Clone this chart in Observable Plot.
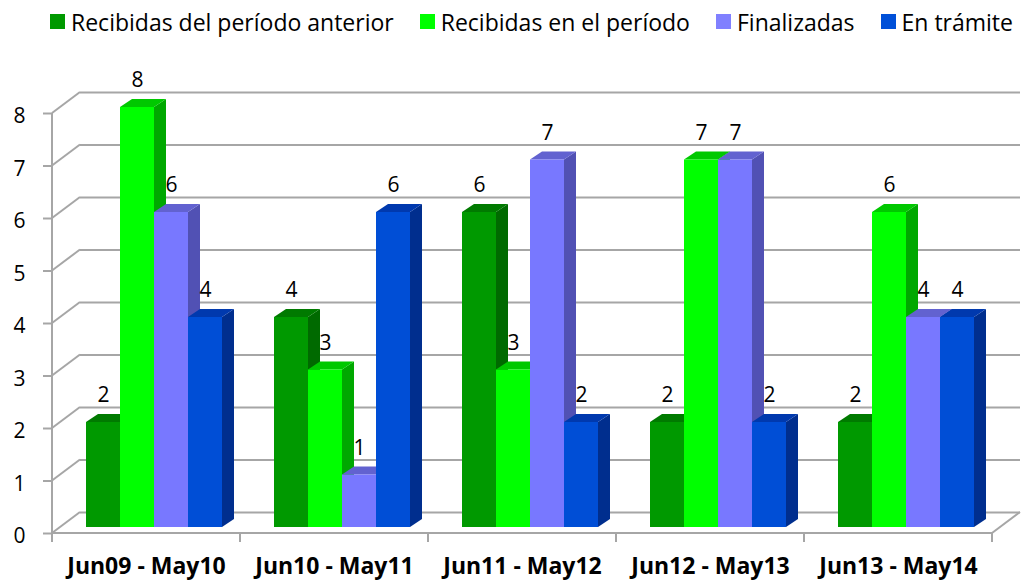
<!DOCTYPE html>
<html><head><meta charset="utf-8">
<script src="https://cdn.jsdelivr.net/npm/d3@7"></script>
<script src="https://cdn.jsdelivr.net/npm/@observablehq/plot@0.6"></script>
<style>
html,body{margin:0;padding:0;background:#fff;}
body{width:1024px;height:582px;overflow:hidden;font-family:"Open Sans",sans-serif;position:relative;}
#legend{position:absolute;top:8px;left:50px;display:flex;gap:26px;font-size:23px;line-height:28px;color:#000;white-space:nowrap;}
#legend .item{display:flex;align-items:center;}
#legend .sw{width:15px;height:15px;margin-right:6px;position:relative;top:-1px;}
#chart{position:absolute;top:50px;left:0;}
</style></head><body>
<div id="legend"></div>
<div id="chart"></div>
<script>
const categories = ["Jun09 - May10","Jun10 - May11","Jun11 - May12","Jun12 - May13","Jun13 - May14"];
const seriesNames = ["Recibidas del período anterior","Recibidas en el período","Finalizadas","En trámite"];
const recibidasAnterior = [2,4,6,2,2];
const recibidasPeriodo  = [8,3,3,7,6];
const finalizadas       = [6,1,7,7,4];
const enTramite         = [4,6,2,2,4];
const yTicks = [0,1,2,3,4,5,6,7,8];

const frontColors  = ["#009900","#00ff00","#7878ff","#004ed6"];
const topColors    = ["#007a00","#00c800","#6262d0","#0039ae"];
const sideColors   = ["#006a00","#00a800","#5151b4","#002e8e"];
const legendColors = ["#009900","#00ff00","#8080ff","#0050d8"];

const seriesValues = [recibidasAnterior, recibidasPeriodo, finalizadas, enTramite];
const rows = [];
categories.forEach((c, i) => seriesValues.forEach((arr, j) =>
  rows.push({category: c, series: seriesNames[j], value: arr[i]})));

// legend
const legend = document.getElementById("legend");
seriesNames.forEach((s, j) => {
  const it = document.createElement("div"); it.className = "item";
  const sw = document.createElement("span"); sw.className = "sw"; sw.style.background = legendColors[j];
  const tx = document.createElement("span"); tx.textContent = s;
  it.append(sw, tx); legend.append(it);
});

const gridColor = "#a6a6a6";
const chart = Plot.plot({
  width: 1024, height: 532,
  marginLeft: 58, marginRight: 22, marginTop: 57, marginBottom: 55,
  style: {fontFamily: "'Open Sans', sans-serif", background: "transparent", overflow: "visible", color: "#000"},
  fx: {domain: categories, paddingInner: 0, paddingOuter: 0, label: null},
  x: {domain: seriesNames, paddingInner: 0, paddingOuter: 0.716, axis: null},
  y: {domain: [0, 8]},
  color: {domain: seriesNames, range: frontColors},
  marks: [
    Plot.gridY(yTicks, {dx: 20, dy: -15, stroke: gridColor, strokeWidth: 2, strokeOpacity: 1}),
    Plot.axisY(yTicks, {tickSize: 9, dx: -8, dy: 6, stroke: gridColor, strokeWidth: 2, tickFormat: () => "", label: null}),
    Plot.axisY(yTicks, {tickSize: 0, tickPadding: 27, dx: -8, dy: 9, fontSize: 21, fill: "#000", tickFormat: d => String(d), label: null}),
    Plot.axisFx({anchor: "bottom", tickSize: 0, tickPadding: 30, dx: -8, fontSize: 23, fontWeight: "bold", fill: "#000", label: null}),
    Plot.barY(rows, {fx: "category", x: "series", y: "value", fill: "series"}),
    Plot.text(rows, {fx: "category", x: "series", y: "value", text: d => String(d.value), dy: -27, fontSize: 21, fill: "#000"})
  ]
});
document.getElementById("chart").append(chart);

// 3D extrusion of the bars (derived from the rendered bars)
const NS = "http://www.w3.org/2000/svg";
const DX = 12, DY = 8;
chart.querySelectorAll('g[aria-label="bar"]').forEach(g => {
  const rects = Array.from(g.querySelectorAll("rect"));
  rects.forEach((r, k) => {
    const x = +r.getAttribute("x"), y = +r.getAttribute("y"), w = +r.getAttribute("width"), h = +r.getAttribute("height");
    let j = frontColors.indexOf((r.getAttribute("fill") || "").toLowerCase());
    if (j < 0) j = k % 4;
    const side = document.createElementNS(NS, "polygon");
    side.setAttribute("points", `${x+w},${y} ${x+w+DX},${y-DY} ${x+w+DX},${y+h-DY} ${x+w},${y+h}`);
    side.setAttribute("fill", sideColors[j]);
    const top = document.createElementNS(NS, "polygon");
    top.setAttribute("points", `${x},${y} ${x+DX},${y-DY} ${x+w+DX},${y-DY} ${x+w},${y}`);
    top.setAttribute("fill", topColors[j]);
    const p = r.parentNode;
    p.insertBefore(side, r); p.insertBefore(top, r);
  });
});

// floor, side wall and front axis lines, from the plot scales
const ys = chart.scale("y"), fxs = chart.scale("fx");
const fxStart = categories.map(c => fxs.apply(c));
const bw = fxs.bandwidth;
const left = fxStart[0] - 8, right = fxStart[fxStart.length - 1] + bw - 8;
const y0f = ys.apply(0) + 6, y0b = ys.apply(0) - 15;
const deco = document.createElementNS(NS, "g");
deco.setAttribute("stroke", gridColor); deco.setAttribute("stroke-width", 2); deco.setAttribute("fill", "none");
function line(x1, y1, x2, y2) {
  const l = document.createElementNS(NS, "line");
  l.setAttribute("x1", x1); l.setAttribute("y1", y1); l.setAttribute("x2", x2); l.setAttribute("y2", y2);
  deco.append(l);
}
yTicks.forEach(t => line(left, ys.apply(t) + 6, left + 28, ys.apply(t) - 15));
line(left, ys.apply(8) + 6, left, y0f + 9);
line(left, y0f, right, y0f);
line(right, y0f, right + 28, y0b);
fxStart.concat([fxStart[fxStart.length - 1] + bw]).forEach(s => line(s - 8, y0f, s - 8, y0f + 9));
chart.append(deco);
</script>
</body></html>
